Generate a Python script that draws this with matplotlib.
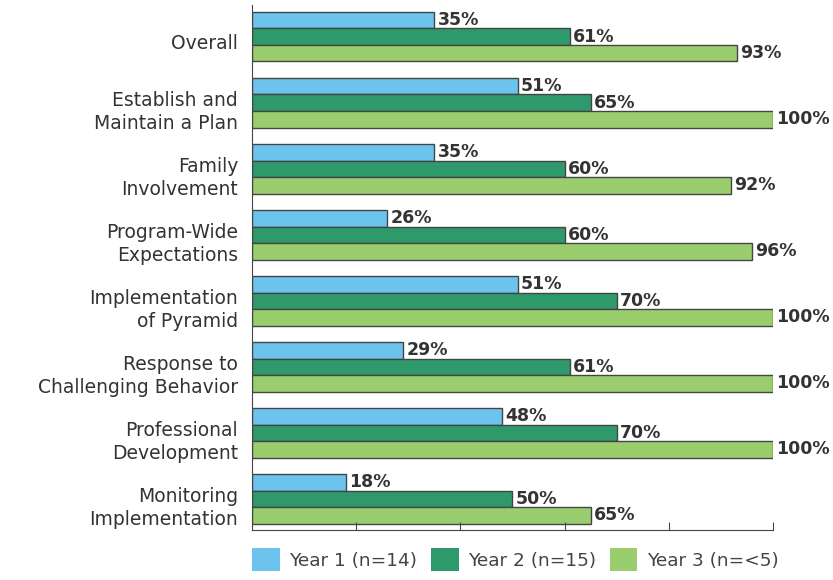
import matplotlib.pyplot as plt
import numpy as np

categories = ["Overall", "Establish and\nMaintain a Plan", "Family\nInvolvement",
              "Program-Wide\nExpectations", "Implementation\nof Pyramid",
              "Response to\nChallenging Behavior", "Professional\nDevelopment",
              "Monitoring\nImplementation"]
year1 = [35, 51, 35, 26, 51, 29, 48, 18]
year2 = [61, 65, 60, 60, 70, 61, 70, 50]
year3 = [93, 100, 92, 96, 100, 100, 100, 65]
series_names = ["Year 1 (n=14)", "Year 2 (n=15)", "Year 3 (n=<5)"]
colors = ["#6CC4EE", "#2E9A6C", "#9ACD6E"]

fig = plt.figure(figsize=(8.33, 5.8), dpi=100)
ax = fig.add_axes([252 / 833, 1 - 530 / 580, 521 / 833, 525 / 580])

y = np.arange(len(categories))
h = 0.25
for k, (vals, name, c) in enumerate(zip([year1, year2, year3], series_names, colors)):
    pos = y + (k - 1) * h
    ax.barh(pos, vals, height=h, color=c, edgecolor="#444444", linewidth=1, label=name)
    for p, v in zip(pos, vals):
        ax.text(v + 0.6, p, f"{v}%", va="center", ha="left",
                fontsize=12.5, fontweight="bold", color="#333333")

ax.set_xlim(0, 100)
ax.set_ylim(7.47, -0.48)
ax.set_yticks(y + 0.08)
ax.set_yticklabels(categories, fontsize=13.5, color="#333333", linespacing=1.25)
ax.tick_params(axis="y", length=0, pad=10)
ax.set_xticks([20, 40, 60, 80, 100])
ax.set_xticklabels([])
ax.tick_params(axis="x", direction="in", length=6, color="#444444")
for s in ["top", "right"]:
    ax.spines[s].set_visible(False)
ax.spines["left"].set_color("#444444")
ax.spines["bottom"].set_color("#444444")

leg = ax.legend(loc="upper left", bbox_to_anchor=(0, -0.035), ncol=3, frameon=False,
                fontsize=13.3, handlelength=1.5, handleheight=1.5, handletextpad=0.5,
                columnspacing=0.75, borderaxespad=0, borderpad=0)
for t in leg.get_texts():
    t.set_color("#444444")
for p in leg.get_patches():
    p.set_edgecolor("none")

fig.savefig("out.png", dpi=100)
